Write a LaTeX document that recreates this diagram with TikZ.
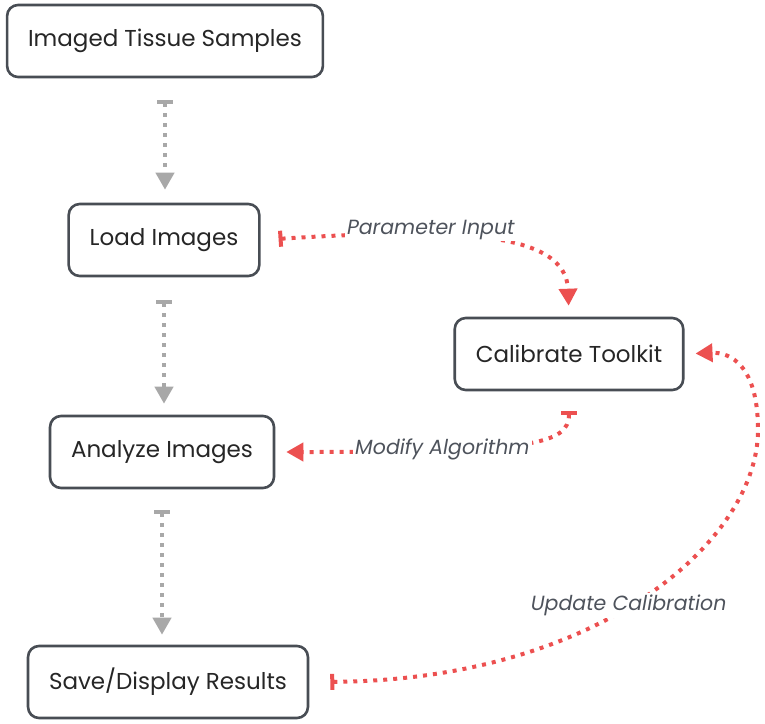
\documentclass[tikz,border=0pt]{standalone}
\usepackage{fontspec}
\setmainfont{Poppins}
\usetikzlibrary{arrows.meta}
\definecolor{boxline}{RGB}{72,77,84}
\definecolor{flowgray}{RGB}{168,168,168}
\definecolor{flowred}{RGB}{236,80,80}
\definecolor{labelgray}{RGB}{78,83,92}

\begin{document}
\begin{tikzpicture}[x=1pt,y=-1pt,
    stepbox/.style={draw=boxline, line width=2.6pt, rounded corners=11pt, fill=white,
        inner xsep=21pt, minimum height=72pt, text=black!85,
        font=\fontsize{23}{27}\selectfont},
    grayflow/.style={draw=flowgray, line width=4pt, dash pattern=on 4pt off 6pt,
        {Bar[width=16pt,line width=4pt]}-{Triangle[width=18pt,length=17pt]}},
    redflow/.style={draw=flowred, line width=4pt, dash pattern=on 4pt off 6pt,
        {Bar[width=16pt,line width=4pt]}-{Triangle[width=18pt,length=17pt]}},
    flowlabel/.style={fill=white, inner sep=2pt, text=labelgray,
        font=\fontsize{20.5}{24}\selectfont\itshape}]
    \useasboundingbox (0,0) rectangle (765,723);
    % Boxes of the pipeline
    \node[stepbox] (tissue)  at (165,41)  {Imaged Tissue Samples};
    \node[stepbox] (load)    at (164,240) {Load Images};
    \node[stepbox] (calib)   at (569,354) {Calibrate Toolkit};
    \node[stepbox] (analyze) at (162,452) {Analyze Images};
    \node[stepbox] (save)    at (168,682) {Save/Display Results};

    \draw[grayflow, shorten <=22pt, shorten >=13pt] (tissue.south) -- (tissue.south |- load.north);
    \draw[grayflow, shorten <=23pt, shorten >=11pt] (load.south) -- (load.south |- analyze.north);
    \draw[grayflow, shorten <=21pt, shorten >=10pt] (analyze.south) -- (analyze.south |- save.north);

    \draw[redflow, shorten <=18pt, shorten >=11pt] (load.east)
        .. controls (450,228) and (566,230) .. node[flowlabel, pos=0.35, yshift=6pt] {Parameter Input} (calib.north);
    \draw[redflow, shorten <=20pt, shorten >=11pt] (calib.south)
        .. controls (569,445) and (530,452) .. node[flowlabel, pos=0.72] {Modify Algorithm} (analyze.east);
    \draw[redflow, shorten <=21pt, shorten >=11pt] (save.east)
        .. controls (600,680) and (758,540) .. node[flowlabel, pos=0.47] {Update Calibration} (758,430)
        .. controls (758,365) and (730,352) .. (calib.east);
\end{tikzpicture}
\end{document}
